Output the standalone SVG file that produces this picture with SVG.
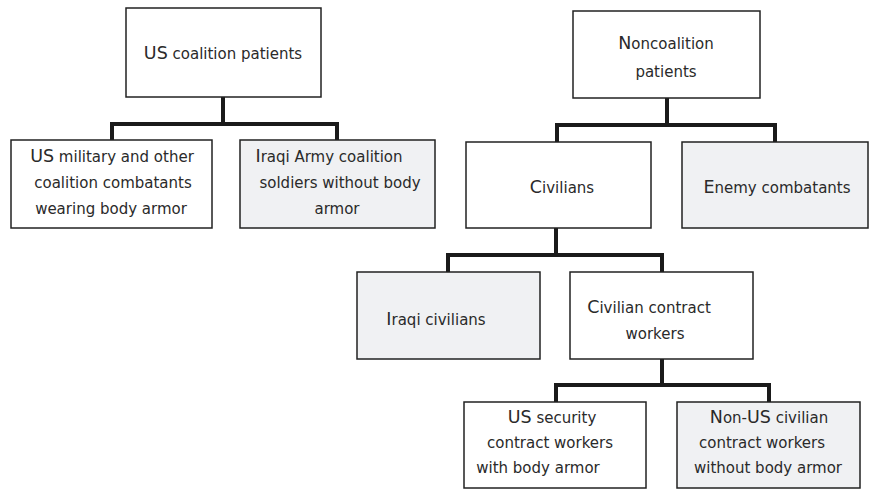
<svg xmlns="http://www.w3.org/2000/svg" width="871" height="489" viewBox="0 0 871 489">
<style>
.box{fill:#ffffff;stroke:#222;stroke-width:1.5}
.gray{fill:#f0f1f3}
.conn{fill:none;stroke:#1a1a1a;stroke-width:4;stroke-linejoin:miter;stroke-linecap:butt}
text{font-family:"DejaVu Sans","Liberation Sans",sans-serif;font-size:15px;fill:#2a2a2a;text-anchor:middle}
.cap{font-size:17.5px}
</style>
<rect width="871" height="489" fill="#ffffff"/>
<g id="connectors">
<path class="conn" d="M223,97 V124 M112,140 V124 H337 V140"/>
<path class="conn" d="M667,98 V125 M557,142 V125 H775 V142"/>
<path class="conn" d="M556,228 V255 M448,272 V255 H662 V272"/>
<path class="conn" d="M662,359 V385 M556,402 V385 H769 V402"/>
</g>
<g id="us-coalition">
<rect class="box" x="126" y="8" width="195" height="89"/>
<text x="223" y="59"><tspan class="cap">US</tspan> coalition patients</text>
</g>
<g id="us-military">
<rect class="box" x="11" y="140" width="201" height="88"/>
<text x="112" y="162"><tspan class="cap">US</tspan> military and other</text>
<text x="113" y="188">coalition combatants</text>
<text x="111" y="214">wearing body armor</text>
</g>
<g id="iraqi-army">
<rect class="box gray" x="240" y="140" width="195" height="88"/>
<text x="329" y="162"><tspan class="cap">I</tspan>raqi Army coalition</text>
<text x="340" y="188">soldiers without body</text>
<text x="337" y="214">armor</text>
</g>
<g id="noncoalition">
<rect class="box" x="573" y="11" width="187" height="87"/>
<text x="666" y="49"><tspan class="cap">N</tspan>oncoalition</text>
<text x="666" y="77">patients</text>
</g>
<g id="civilians">
<rect class="box" x="466" y="142" width="185" height="86"/>
<text x="562" y="193"><tspan class="cap">C</tspan>ivilians</text>
</g>
<g id="enemy">
<rect class="box gray" x="682" y="142" width="186" height="86"/>
<text x="777" y="193"><tspan class="cap">E</tspan>nemy combatants</text>
</g>
<g id="iraqi-civilians">
<rect class="box gray" x="357" y="272" width="183" height="87"/>
<text x="436" y="325"><tspan class="cap">I</tspan>raqi civilians</text>
</g>
<g id="contract-workers">
<rect class="box" x="570" y="272" width="183" height="87"/>
<text x="649" y="313"><tspan class="cap">C</tspan>ivilian contract</text>
<text x="655" y="339">workers</text>
</g>
<g id="us-security">
<rect class="box" x="464" y="402" width="182" height="86"/>
<text x="552" y="423"><tspan class="cap">US</tspan> security</text>
<text x="550" y="448">contract workers</text>
<text x="538" y="473">with body armor</text>
</g>
<g id="non-us">
<rect class="box gray" x="677" y="402" width="183" height="86"/>
<text x="769" y="423"><tspan class="cap">N</tspan>on-<tspan class="cap">US</tspan> civilian</text>
<text x="762" y="448">contract workers</text>
<text x="768" y="473">without body armor</text>
</g>
</svg>
